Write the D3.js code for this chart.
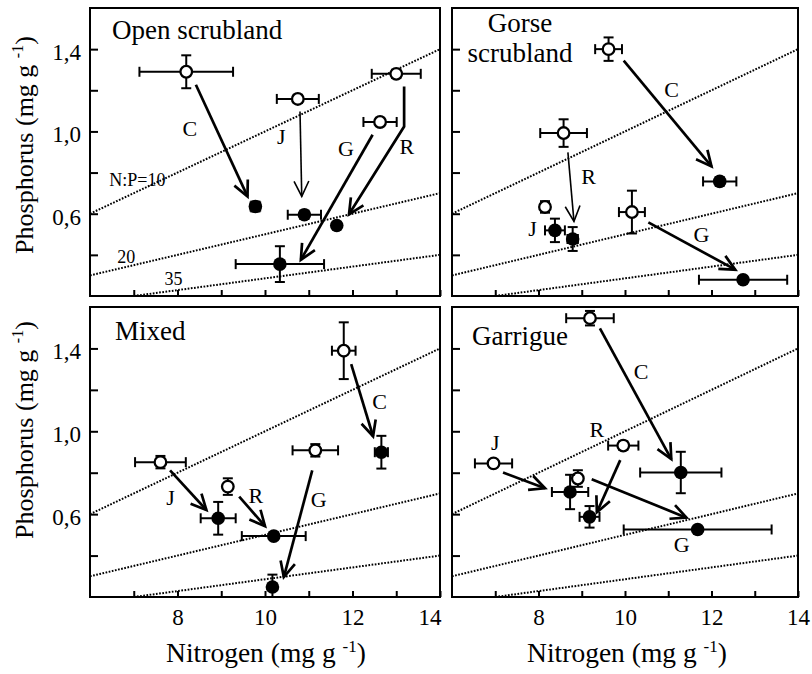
<!DOCTYPE html>
<html>
<head>
<meta charset="utf-8">
<script src="https://cdn.jsdelivr.net/npm/d3@7"></script>
<style>
  body { margin: 0; background: #fff; }
  svg text { font-family: "Liberation Serif", "Times New Roman", Times, serif !important; fill: #000; }
</style>
</head>
<body>
<svg id="chart" width="812" height="674"></svg>
<script>
// ---- Data: nitrogen (n) and phosphorus (p) in mg/g, with error half-widths (en, ep)
const panelTitles = [["Open scrubland"], ["Gorse", "scrubland"], ["Mixed"], ["Garrigue"]];

// initial state (open symbols), species C, J, G, R
const openScrubBefore = [
  { sp: "C", n: 8.20, p: 1.290, en: 1.07, ep: 0.080 },
  { sp: "J", n: 10.75, p: 1.158, en: 0.48, ep: 0.020 },
  { sp: "G", n: 12.63, p: 1.046, en: 0.38, ep: 0.020 },
  { sp: "R", n: 13.00, p: 1.280, en: 0.56, ep: 0.020 }
];
const openScrubAfter = [
  { sp: "C", n: 9.78, p: 0.635, en: 0.11, ep: 0.024 },
  { sp: "J", n: 10.90, p: 0.595, en: 0.38, ep: 0.020 },
  { sp: "G", n: 10.34, p: 0.355, en: 1.01, ep: 0.087 },
  { sp: "R", n: 11.64, p: 0.543, en: 0.00, ep: 0.000 }
];
const gorseBefore = [
  { sp: "C", n: 9.62, p: 1.400, en: 0.31, ep: 0.057 },
  { sp: "J", n: 8.15, p: 0.633, en: 0.00, ep: 0.028 },
  { sp: "G", n: 10.16, p: 0.608, en: 0.30, ep: 0.104 },
  { sp: "R", n: 8.58, p: 0.992, en: 0.54, ep: 0.067 }
];
const gorseAfter = [
  { sp: "C", n: 12.19, p: 0.757, en: 0.385, ep: 0.020 },
  { sp: "J", n: 8.38, p: 0.519, en: 0.23, ep: 0.057 },
  { sp: "G", n: 12.73, p: 0.279, en: 1.02, ep: 0.000 },
  { sp: "R", n: 8.79, p: 0.477, en: 0.12, ep: 0.058 }
];
const mixedBefore = [
  { sp: "C", n: 11.80, p: 1.389, en: 0.27, ep: 0.137 },
  { sp: "J", n: 7.61, p: 0.851, en: 0.58, ep: 0.030 },
  { sp: "G", n: 11.15, p: 0.908, en: 0.52, ep: 0.030 },
  { sp: "R", n: 9.15, p: 0.733, en: 0.00, ep: 0.040 }
];
const mixedAfter = [
  { sp: "C", n: 12.66, p: 0.899, en: 0.15, ep: 0.079 },
  { sp: "J", n: 8.93, p: 0.580, en: 0.40, ep: 0.079 },
  { sp: "G", n: 10.17, p: 0.248, en: 0.00, ep: 0.060 },
  { sp: "R", n: 10.20, p: 0.494, en: 0.73, ep: 0.000 }
];
const garrigueBefore = [
  { sp: "C", n: 9.19, p: 1.546, en: 0.55, ep: 0.035 },
  { sp: "J", n: 6.96, p: 0.845, en: 0.43, ep: 0.000 },
  { sp: "G", n: 8.91, p: 0.772, en: 0.00, ep: 0.040 },
  { sp: "R", n: 9.96, p: 0.931, en: 0.35, ep: 0.020 }
];
const garrigueAfter = [
  { sp: "C", n: 11.29, p: 0.801, en: 0.94, ep: 0.100 },
  { sp: "J", n: 8.73, p: 0.707, en: 0.42, ep: 0.083 },
  { sp: "G", n: 11.68, p: 0.526, en: 1.71, ep: 0.012 },
  { sp: "R", n: 9.18, p: 0.587, en: 0.23, ep: 0.052 }
];

// change arrows, as [n, p] vertices; the last vertex is the arrow tip
const openScrubArrows = [
  { sp: "C", pts: [[8.42, 1.227], [9.60, 0.684]] },
  { sp: "J", pts: [[10.80, 1.097], [10.84, 0.684]], thin: true },
  { sp: "G", pts: [[12.46, 0.984], [10.82, 0.376]] },
  { sp: "R", pts: [[13.18, 1.219], [13.18, 1.024], [11.92, 0.597]] }
];
const gorseArrows = [
  { sp: "C", pts: [[9.97, 1.344], [12.00, 0.830]] },
  { sp: "R", pts: [[8.68, 0.898], [8.82, 0.563]], thin: true },
  { sp: "G", pts: [[10.54, 0.558], [12.55, 0.328]] }
];
const mixedArrows = [
  { sp: "C", pts: [[11.97, 1.324], [12.47, 0.976]] },
  { sp: "J", pts: [[7.83, 0.811], [8.66, 0.620]] },
  { sp: "R", pts: [[9.41, 0.685], [10.00, 0.542]] },
  { sp: "G", pts: [[11.08, 0.811], [10.43, 0.296]] }
];
const garrigueArrows = [
  { sp: "C", pts: [[9.42, 1.497], [11.07, 0.866]] },
  { sp: "J", pts: [[7.18, 0.801], [8.15, 0.725]] },
  { sp: "R", pts: [[9.89, 0.861], [9.35, 0.609]] },
  { sp: "G", pts: [[9.23, 0.769], [11.42, 0.583]] }
];

// species letters beside the arrows, [n, p]
const openScrubLetters = [["C", 8.28, 1.017], ["J", 10.37, 0.976], ["G", 11.85, 0.919], ["R", 13.24, 0.927]];
const gorseLetters = [["C", 11.08, 1.203], ["R", 9.16, 0.781], ["G", 11.77, 0.498], ["J", 7.86, 0.530]];
const mixedLetters = [["C", 12.62, 1.146], ["J", 7.84, 0.682], ["R", 9.79, 0.690], ["G", 11.23, 0.674]];
const garrigueLetters = [["C", 10.37, 1.290], ["J", 7.00, 0.947], ["R", 9.35, 1.012], ["G", 11.31, 0.453]];

// N:P reference ratios and where their labels sit (first panel only)
const npRatios = [10, 20, 35];
const npLabels = [["N:P=10", 6.44, 0.733], ["20", 6.62, 0.360], ["35", 7.70, 0.254]];

const xDomain = [6, 14];
const yDomain = [0.2, 1.6];
const xTicks = [7, 8, 9, 10, 11, 12, 13, 14];
const xLabelled = [8, 10, 12, 14];
const yTicks = [0.4, 0.6, 0.8, 1.0, 1.2, 1.4];
const yLabelled = [0.6, 1.0, 1.4];

const before = [openScrubBefore, gorseBefore, mixedBefore, garrigueBefore];
const after = [openScrubAfter, gorseAfter, mixedAfter, garrigueAfter];
const arrows = [openScrubArrows, gorseArrows, mixedArrows, garrigueArrows];
const letters = [openScrubLetters, gorseLetters, mixedLetters, garrigueLetters];

// ---- Layout
const SERIF = '"Liberation Serif", "Times New Roman", Times, serif';
const svg = d3.select("#chart").attr("font-family", SERIF);
const cols = [[90, 440], [452, 798]];
const rows = [[8, 296], [307, 597]];
const titleOffsets = [[22, 31], [68, 24], [25, 33], [20, 38]];

const fmt = d => d3.format(".1f")(d).replace(".", ",");
const near = (a, list) => list.some(v => Math.abs(v - a) < 1e-9);

panelTitles.forEach((title, i) => {
  const col = i % 2, row = Math.floor(i / 2);
  const [x0, x1] = cols[col];
  const [y0, y1] = rows[row];
  const x = d3.scaleLinear().domain(xDomain).range([x0, x1]);
  const y = d3.scaleLinear().domain(yDomain).range([y1, y0]);

  const clipId = "clip" + i;
  svg.append("clipPath").attr("id", clipId)
    .append("rect").attr("x", x0).attr("y", y0).attr("width", x1 - x0).attr("height", y1 - y0);

  const g = svg.append("g");
  const plot = g.append("g").attr("clip-path", `url(#${clipId})`);

  // N:P reference lines
  npRatios.forEach(r => {
    const nStart = Math.max(xDomain[0], yDomain[0] * r);
    plot.append("line")
      .attr("x1", x(nStart)).attr("y1", y(nStart / r))
      .attr("x2", x(xDomain[1])).attr("y2", y(xDomain[1] / r))
      .attr("stroke", "#000").attr("stroke-width", 2)
      .attr("stroke-dasharray", "1.7,1.5");
  });

  // arrows
  arrows[i].forEach(a => {
    const sw = a.thin ? 1.6 : 2.7;
    const line = d3.line().x(d => x(d[0])).y(d => y(d[1]));
    plot.append("path").attr("d", line(a.pts))
      .attr("fill", "none").attr("stroke", "#000").attr("stroke-width", sw);
    const tip = a.pts[a.pts.length - 1], prev = a.pts[a.pts.length - 2];
    const tx = x(tip[0]), ty = y(tip[1]);
    const ang = Math.atan2(ty - y(prev[1]), tx - x(prev[0]));
    const L = 17, spread = 0.45;
    const p1 = [tx - L * Math.cos(ang - spread), ty - L * Math.sin(ang - spread)];
    const p2 = [tx - L * Math.cos(ang + spread), ty - L * Math.sin(ang + spread)];
    plot.append("path")
      .attr("d", `M${p1[0]},${p1[1]}L${tx},${ty}L${p2[0]},${p2[1]}`)
      .attr("fill", "none").attr("stroke", "#000").attr("stroke-width", sw)
      .attr("stroke-linejoin", "miter");
  });

  // error bars and symbols
  const drawPoints = (data, filled) => {
    data.forEach(d => {
      const cx = x(d.n), cy = y(d.p);
      const eb = plot.append("g").attr("stroke", "#000").attr("stroke-width", 2);
      if (d.en > 0) {
        eb.append("line").attr("x1", x(d.n - d.en)).attr("x2", x(d.n + d.en)).attr("y1", cy).attr("y2", cy);
        [d.n - d.en, d.n + d.en].forEach(v =>
          eb.append("line").attr("x1", x(v)).attr("x2", x(v)).attr("y1", cy - 5).attr("y2", cy + 5));
      }
      if (d.ep > 0) {
        eb.append("line").attr("x1", cx).attr("x2", cx).attr("y1", y(d.p - d.ep)).attr("y2", y(d.p + d.ep));
        [d.p - d.ep, d.p + d.ep].forEach(v =>
          eb.append("line").attr("x1", cx - 5).attr("x2", cx + 5).attr("y1", y(v)).attr("y2", y(v)));
      }
      plot.append("circle").attr("cx", cx).attr("cy", cy)
        .attr("r", filled ? 6.8 : 5.8)
        .attr("fill", filled ? "#000" : "#fff")
        .attr("stroke", "#000").attr("stroke-width", filled ? 0 : 2.3);
    });
  };
  drawPoints(before[i], false);
  drawPoints(after[i], true);

  // species letters
  plot.selectAll("text.sp").data(letters[i]).join("text")
    .attr("class", "sp")
    .attr("x", d => x(d[1])).attr("y", d => y(d[2]))
    .attr("dy", "0.35em").attr("text-anchor", "middle")
    .attr("font-size", 22).text(d => d[0]);

  // ratio labels
  if (i === 0) {
    plot.selectAll("text.np").data(npLabels).join("text")
      .attr("class", "np")
      .attr("x", d => x(d[1])).attr("y", d => y(d[2]))
      .attr("font-size", 18).text(d => d[0]);
  }

  // axes
  const yAxis = d3.axisLeft(y).tickValues(yTicks).tickSize(-8).tickPadding(9)
    .tickFormat(d => (col === 0 && near(d, yLabelled)) ? fmt(d) : "");
  const ya = g.append("g").attr("transform", `translate(${x0},0)`).call(yAxis)
    .attr("font-family", SERIF).attr("font-size", 23);
  ya.select(".domain").remove();
  ya.selectAll("line").attr("stroke-width", 2);
  ya.selectAll("text").attr("dy", "0.45em");

  const xAxis = d3.axisBottom(x).tickValues(xTicks).tickSize(-6)
    .tickFormat(d => (row === 1 && near(d, xLabelled)) ? String(d) : "");
  const xa = g.append("g").attr("transform", `translate(0,${y1})`).call(xAxis)
    .attr("font-family", SERIF).attr("font-size", 23);
  xa.select(".domain").remove();
  xa.selectAll("line").attr("stroke-width", 2);
  xa.selectAll("text").attr("dy", 0).attr("y", 28);
  if (col === 0) {
    xa.selectAll("text").filter(d => d === 14).attr("text-anchor", "end").attr("dx", 1);
  }

  // frame
  g.append("rect").attr("x", x0).attr("y", y0).attr("width", x1 - x0).attr("height", y1 - y0)
    .attr("fill", "none").attr("stroke", "#000").attr("stroke-width", 2);

  // panel title
  title.forEach((t, k) => {
    g.append("text")
      .attr("x", x0 + titleOffsets[i][0]).attr("y", y0 + titleOffsets[i][1] + k * 30)
      .attr("text-anchor", i === 1 ? "middle" : "start")
      .attr("font-size", 27).text(t);
  });
});

// axis titles
const unitText = (sel, main, sup) => {
  sel.append("tspan").text(main + " (mg g ");
  sel.append("tspan").attr("font-size", sup).attr("dy", -10).text("-1");
  sel.append("tspan").attr("dy", 10).text(")");
};
[145, 430].forEach(cy => {
  const t = svg.append("text").attr("transform", `translate(33,${cy}) rotate(-90)`)
    .attr("text-anchor", "middle").attr("font-size", 26);
  unitText(t, "Phosphorus", 16);
});
[266, 627].forEach(cx => {
  const t = svg.append("text").attr("x", cx).attr("y", 662)
    .attr("text-anchor", "middle").attr("font-size", 27.5);
  unitText(t, "Nitrogen", 17);
});
</script>
</body>
</html>
